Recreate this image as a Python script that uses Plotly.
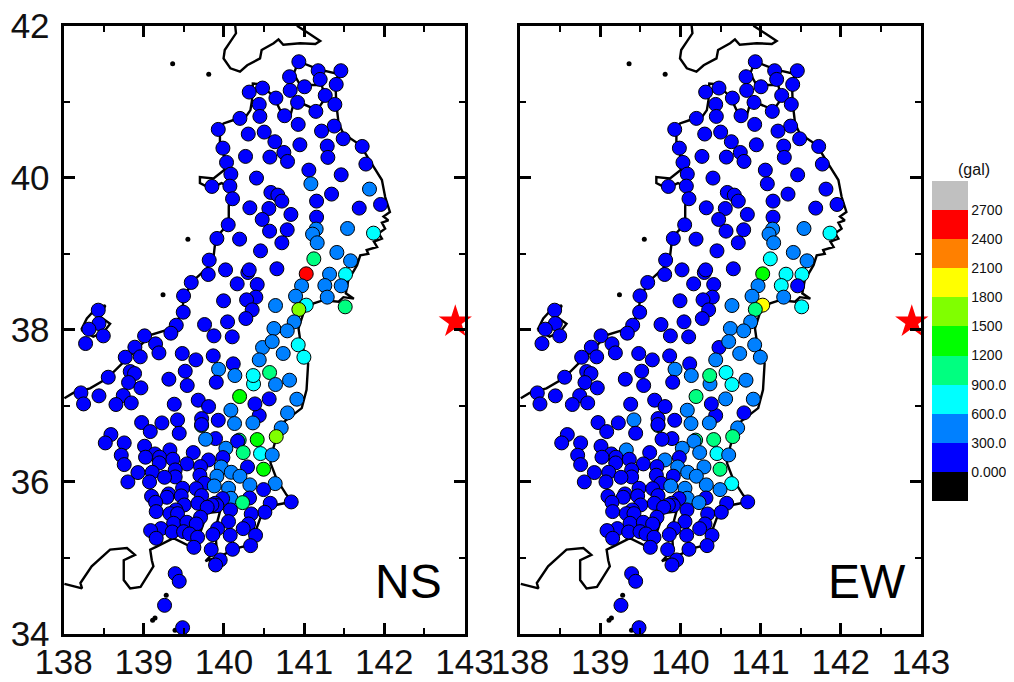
import plotly.graph_objects as go

station_lon = [
 140.934,141.175,141.458,140.818,141.2,141.4,141.005,140.826,140.481,140.315,
 141.263,140.648,140.918,140.44,141.383,141.146,140.756,140.448,140.199,140.926,
 141.375,141.217,139.929,140.502,140.303,141.487,140.635,140.947,141.288,141.724,
 139.987,140.747,140.269,140.573,141.296,140.793,140.032,141.77,141.059,140.086,
 141.462,140.406,141.084,139.85,140.074,141.815,140.585,141.342,140.672,140.107,
 140.722,141.155,141.953,140.323,141.687,140.56,140.835,141.155,140.477,140.053,
 141.15,141.541,140.569,140.789,141.865,141.105,139.912,140.195,141.163,140.722,
 140.456,141.408,139.816,141.121,141.579,140.02,140.66,140.298,140.315,139.804,
 141.026,141.317,141.516,139.592,140.165,140.415,140.968,141.258,141.462,140.893,
 139.496,140.398,141.288,140.282,139.995,141.026,140.643,141.512,140.934,138.432,
 140.352,139.492,140.273,140.045,140.876,138.441,139.405,139.758,138.316,140.623,
 140.789,139.338,139.875,139.01,140.103,138.495,138.274,140.926,140.481,140.602,
 138.889,139.147,139.189,139.48,140.997,140.739,138.769,138.956,139.866,139.65,
 140.44,140.116,139.933,139.517,138.831,138.885,140.136,140.369,140.365,140.569,
 138.557,139.313,140.818,139.904,140.643,138.81,139.542,138.964,138.216,138.441,
 138.744,140.195,140.564,140.909,138.249,138.653,138.844,139.38,139.679,139.808,
 140.44,140.386,140.086,140.793,139.721,139.421,139.929,138.973,139.226,140.132,
 140.361,139.721,139.721,140.714,139.081,139.442,140.652,138.59,139.895,139.771,
 140.19,140.17,140.415,138.756,138.52,139.01,140.024,139.326,139.617,140.24,
 140.456,140.602,138.719,139.139,139.987,139.197,139.022,139.363,139.808,139.193,
 139.538,138.756,139.708,139.966,140.294,140.494,139.392,138.927,139.106,140.091,
 139.7,139.912,140.199,139.392,139.259,138.802,139.072,139.758,139.879,140.323,
 140.639,139.484,139.654,140.057,140.494,139.097,139.309,139.288,139.467,139.721,
 140.086,139.983,140.319,140.839,139.147,139.505,140.232,140.577,139.675,139.891,
 139.912,139.85,139.791,140.082,139.155,139.401,139.326,139.421,140.51,140.34,
 139.708,140.057,139.372,139.538,139.654,140.307,139.92,139.214,140.24,139.085,
 139.355,139.496,139.571,139.862,140.078,140.394,139.671,139.155,139.625,140.332,
 140.107,139.841,139.953,139.895,139.392,139.442,139.259,139.484,
]
station_lat = [
 41.526,41.408,41.408,41.329,41.294,41.228,41.197,41.149,41.18,41.127,
 41.083,41.048,40.991,40.965,40.965,40.873,40.816,40.807,40.781,40.702,
 40.68,40.614,40.636,40.601,40.575,40.513,40.474,40.434,40.417,40.412,
 40.39,40.333,40.281,40.272,40.268,40.215,40.202,40.18,40.101,40.048,
 40.039,39.996,39.921,39.886,39.89,39.851,39.807,39.785,39.772,39.724,
 39.693,39.693,39.649,39.605,39.601,39.596,39.518,39.482,39.452,39.382,
 39.325,39.333,39.298,39.316,39.272,39.259,39.202,39.193,39.145,39.145,
 39.039,39.018,38.917,38.934,38.908,38.789,38.803,38.754,38.789,38.728,
 38.737,38.732,38.728,38.623,38.605,38.596,38.579,38.583,38.579,38.443,
 38.447,38.43,38.43,38.395,38.382,38.325,38.32,38.303,38.268,38.259,
 38.263,38.232,38.149,38.105,38.105,38.083,38.061,38.07,38.009,38.018,
 37.987,37.956,37.921,37.921,37.908,37.921,37.82,37.803,37.768,37.846,
 37.772,37.816,37.697,37.689,37.64,37.689,37.64,37.645,37.658,37.605,
 37.605,37.553,37.482,37.456,37.452,37.425,37.399,37.289,37.399,37.439,
 37.377,37.351,37.338,37.311,37.281,37.307,37.268,37.237,37.171,37.132,
 37.136,37.123,37.092,37.088,37.026,37.018,37.039,37.022,37.075,36.991,
 36.873,37.026,36.943,36.908,36.833,36.816,36.811,36.781,36.776,36.768,
 36.776,36.742,36.754,36.711,36.662,36.64,36.596,36.623,36.57,36.561,
 36.55,36.535,36.557,36.513,36.513,36.469,36.443,36.421,36.386,36.386,
 36.373,36.355,36.351,36.368,36.32,36.325,36.325,36.298,36.289,36.25,
 36.237,36.228,36.202,36.197,36.197,36.167,36.158,36.123,36.127,36.127,
 36.088,36.075,36.075,36.066,36.061,36.0,36.0,35.982,35.947,35.961,
 35.978,35.917,35.912,35.917,35.899,35.811,35.842,35.798,35.816,35.82,
 35.785,35.781,35.789,35.737,35.732,35.697,35.728,35.719,35.719,35.719,
 35.689,35.697,35.667,35.632,35.61,35.632,35.583,35.583,35.601,35.579,
 35.535,35.478,35.456,35.469,35.447,35.447,35.386,35.386,35.386,35.36,
 35.342,35.346,35.316,35.307,35.298,35.298,35.272,35.259,35.14,35.162,
 35.114,35.11,34.974,34.908,34.794,34.693,34.377,34.083,
]
ns_gal = [
 150,150,150,150,150,150,150,150,150,150,
 150,150,150,150,150,150,150,150,150,150,
 150,150,150,150,150,150,150,150,150,150,
 150,150,150,150,150,150,150,150,150,150,
 150,150,450,150,150,450,150,150,150,150,
 150,150,150,150,150,150,150,150,150,150,
 450,450,150,150,750,450,150,150,450,150,
 150,450,150,1050,450,150,150,150,150,150,
 2550,450,750,150,150,150,450,450,450,450,
 150,150,450,150,150,750,450,1050,1650,150,
 150,150,150,150,450,150,150,150,150,450,
 450,150,150,150,150,150,150,750,450,450,
 150,150,150,150,750,450,150,150,150,150,
 450,150,450,150,150,150,450,750,750,1050,
 150,150,450,150,450,150,150,150,150,150,
 150,1350,150,450,150,150,150,150,150,150,
 150,150,450,450,150,150,150,150,150,450,
 450,1050,150,450,150,150,1650,150,150,450,
 1050,150,1350,150,150,150,450,150,150,1050,
 750,450,150,150,150,150,150,150,150,150,
 150,150,150,450,150,1350,150,150,150,450,
 150,450,450,150,150,150,150,150,450,450,
 450,150,150,450,150,150,150,150,150,150,
 450,150,150,150,150,150,1050,150,150,150,
 150,150,150,150,150,150,150,150,150,150,
 150,150,150,150,150,150,150,150,150,150,
 150,150,150,150,150,150,150,150,150,150,
 150,150,150,150,150,150,150,150,
]
ew_gal = [
 150,150,150,150,150,150,150,150,150,150,
 150,150,150,150,150,150,150,150,150,150,
 150,150,150,150,150,150,150,150,150,150,
 150,150,150,150,150,150,150,150,150,150,
 150,150,150,150,150,150,150,150,150,150,
 150,150,150,150,150,150,150,150,150,150,
 450,450,150,150,750,450,150,150,450,150,
 150,450,150,750,450,150,150,150,150,150,
 1350,750,750,150,150,150,450,750,150,450,
 150,150,450,150,150,1950,450,750,1050,150,
 150,150,150,150,450,150,150,150,150,450,
 450,150,150,150,150,150,150,450,150,450,
 150,150,150,150,450,450,150,150,150,150,
 450,150,450,150,150,150,450,450,1050,750,
 150,150,450,150,750,150,150,150,150,150,
 150,1050,450,450,150,150,150,150,150,150,
 150,150,450,150,150,450,150,150,150,450,
 450,1050,150,450,150,150,1050,150,150,150,
 1050,450,1050,150,150,150,450,450,150,450,
 750,450,150,150,150,150,150,150,450,150,
 150,150,150,450,450,1050,150,150,150,450,
 150,150,450,150,150,150,150,150,450,450,
 750,150,150,450,450,150,150,150,150,150,
 450,150,150,150,150,150,450,150,150,150,
 150,150,150,150,150,150,150,150,150,150,
 150,150,150,150,150,150,150,150,150,150,
 150,150,150,150,150,150,150,150,150,150,
 150,150,150,150,150,150,150,150,
]

coast_lon = [
 140.14,140.15,140.08,140.01,139.995,140.08,140.2,140.29,140.45,140.47,140.62,140.68,140.74,140.95,141.14,141.2,141.055,140.95,140.91,None,
 138.01,138.12,138.33,138.54,138.75,138.91,139.08,139.29,139.39,139.475,139.50,139.62,139.79,139.87,139.89,139.95,140.06,140.06,140.08,139.97,139.83,139.70,139.70,139.87,140.0,140.04,139.95,139.95,139.995,140.12,140.27,140.33,140.35,140.36,140.45,140.62,140.70,140.83,140.87,141.01,141.16,141.26,141.22,140.95,140.87,140.93,141.18,141.41,141.47,141.39,141.40,141.43,141.49,141.70,141.84,141.97,142.01,142.07,141.99,142.05,141.97,142.01,141.93,141.97,141.87,141.91,141.78,141.80,141.70,141.66,141.55,141.52,141.62,141.49,141.43,141.24,141.12,140.99,140.93,140.95,141.05,141.03,140.97,140.70,140.62,140.58,140.66,140.78,140.85,140.66,140.47,140.41,140.33,140.16,139.95,139.77,139.91,139.89,139.95,139.79,139.70,139.58,139.37,139.16,139.08,139.10,139.12,138.96,138.83,138.75,138.75,138.89,138.79,138.58,138.35,138.21,138.23,138.01,None,
 138.22,138.29,138.42,138.52,138.46,138.58,138.50,138.37,138.22,
]
coast_lat = [
 42.0,41.90,41.79,41.68,41.57,41.44,41.395,41.48,41.57,41.68,41.77,41.82,41.75,41.77,41.76,41.80,41.90,41.965,42.0,None,
 37.10,37.17,37.23,37.36,37.58,37.74,37.93,38.0,38.08,38.215,38.43,38.65,38.81,38.96,39.14,39.27,39.40,39.62,39.88,39.93,39.86,39.93,40.01,39.99,40.10,40.19,40.41,40.63,40.715,40.76,40.80,40.89,41.02,41.24,41.23,41.07,40.89,40.825,40.98,40.96,40.89,41.04,41.22,41.22,41.37,41.53,41.425,41.37,41.41,41.285,40.98,40.715,40.58,40.43,40.19,39.97,39.75,39.55,39.49,39.44,39.41,39.33,39.27,39.20,39.16,39.09,39.05,39.0,38.98,38.85,38.65,38.48,38.41,38.43,38.37,38.39,38.35,38.215,38.02,37.87,37.56,37.21,36.97,36.75,36.46,36.25,36.03,35.83,35.74,35.70,35.57,35.41,35.17,35.13,35.02,34.96,35.11,35.37,35.61,35.59,35.32,35.15,35.26,35.15,35.11,34.97,34.89,34.62,34.60,34.71,34.97,35.04,35.13,35.11,34.89,34.67,34.60,34.66,None,
 38.0,38.15,38.30,38.32,38.17,38.08,37.97,37.91,38.0,
]
islet_lon = [139.36, 139.81, 139.55, 139.24, 139.28, 139.14, 139.11, 139.39]
islet_lat = [41.50, 41.36, 39.19, 38.46, 34.51, 34.21, 34.18, 34.05]
epicenter_lon = [142.885]
epicenter_lat = [38.105]
band_colors = ["#000000","#0000ff","#0080ff","#00ffff","#00ff80","#00ff00","#80ff00","#ffff00","#ff8000","#ff0000","#c0c0c0"]
band_ticks = [0,300,600,900,1200,1500,1800,2100,2400,2700]
band_labels = ["0.000","300.0","600.0","900.0","1200","1500","1800","2100","2400","2700"]
panel_names = ["NS","EW"]

W, H = 1014, 682
PAGE = 8  # the page body's default margin
FONT = "Liberation Sans, Arial, sans-serif"
def fx(p):
    return (p - PAGE) / W
def fy(p):
    return 1 - (p - PAGE) / H

n = len(band_colors)
scale = []
for i, c in enumerate(band_colors):
    scale += [[i / n, c], [(i + 1) / n, c]]

fig = go.Figure()
for k, (vals, ax) in enumerate(zip([ns_gal, ew_gal], ["", "2"])):
    fig.add_trace(go.Scatter(x=coast_lon, y=coast_lat, mode="lines", xaxis="x" + ax, yaxis="y" + ax,
                             line=dict(color="black", width=2.4), hoverinfo="skip", showlegend=False))
    fig.add_trace(go.Scatter(x=islet_lon, y=islet_lat, mode="markers", xaxis="x" + ax, yaxis="y" + ax,
                             marker=dict(size=5, color="black"), hoverinfo="skip", showlegend=False))
    fig.add_trace(go.Scatter(x=station_lon, y=station_lat, mode="markers", xaxis="x" + ax, yaxis="y" + ax,
                             marker=dict(size=14, color=vals, coloraxis="coloraxis", line=dict(color="black", width=1)),
                             showlegend=False))
    fig.add_trace(go.Scatter(x=epicenter_lon, y=epicenter_lat, mode="markers", xaxis="x" + ax, yaxis="y" + ax,
                             cliponaxis=False, marker=dict(symbol="star", size=25, color="#ff0000"), showlegend=False))
    fig.add_annotation(x=142.3 if k == 0 else 142.33, y=34.69, xref="x" + ax, yref="y" + ax, text=panel_names[k],
                       showarrow=False, font=dict(family=FONT, size=48, color="black"))

def xaxis(domain, anchor):
    return dict(domain=domain, range=[138, 143], anchor=anchor, dtick=1, ticks="inside", ticklen=11, tickwidth=2.5,
                tickcolor="black", showline=True, linewidth=3, linecolor="black", mirror="ticks", showgrid=False,
                zeroline=False, automargin=False, ticklabeloverflow="allow", ticklabelstandoff=-5,
                tickfont=dict(family=FONT, size=35, color="#111"),
                minor=dict(ticks="inside", dtick=0.5, ticklen=6, tickwidth=2, tickcolor="black", showgrid=False))

def yaxis(anchor, labels):
    return dict(domain=[fy(634), fy(25.7)], range=[34, 42], anchor=anchor, dtick=2, ticks="inside", ticklen=11,
                tickwidth=2.5, tickcolor="black", showline=True, linewidth=3, linecolor="black", mirror="ticks",
                showgrid=False, zeroline=False, automargin=False, showticklabels=labels, ticklabelstandoff=4,
                ticklabeloverflow="allow", tickfont=dict(family=FONT, size=35, color="#111"),
                minor=dict(ticks="inside", dtick=1, ticklen=6, tickwidth=2, tickcolor="black", showgrid=False))

fig.update_layout(
    template="none",
    width=W, height=H, margin=dict(l=0, r=0, t=0, b=0), paper_bgcolor="white", plot_bgcolor="white",
    xaxis=xaxis([fx(63.6), fx(464.5)], "y"), yaxis=yaxis("x", True),
    xaxis2=xaxis([fx(520), fx(921)], "y2"), yaxis2=yaxis("x2", False),
    coloraxis=dict(colorscale=scale, cmin=-300, cmax=3000,
                   colorbar=dict(x=fx(932), xanchor="left", y=fy(181), yanchor="top", lenmode="pixels", len=320,
                                 thicknessmode="pixels", thickness=36, outlinewidth=0, ticks="", xpad=0, ypad=0,
                                 tickvals=band_ticks, ticktext=band_labels,
                                 tickfont=dict(family=FONT, size=14, color="#111"))),
    annotations=list(fig.layout.annotations) + [
        dict(x=fx(974), y=fy(169), xref="paper", yref="paper", xanchor="center", yanchor="middle", text="(gal)",
             showarrow=False, font=dict(family=FONT, size=16, color="#111"))],
)
fig.write_html("out.html")
